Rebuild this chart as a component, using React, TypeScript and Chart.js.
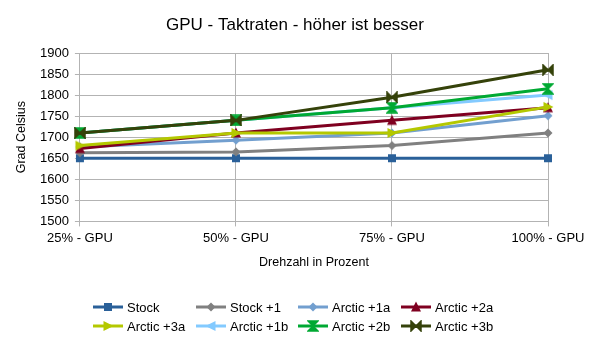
import React, { useEffect, useRef } from "react";
import { Chart, registerables } from "chart.js";

Chart.register(...registerables);

const chartTitle = "GPU - Taktraten - höher ist besser";
const categories = ["25% - GPU", "50% - GPU", "75% - GPU", "100% - GPU"];
const seriesNames = ["Stock", "Stock +1", "Arctic +1a", "Arctic +2a", "Arctic +3a", "Arctic +1b", "Arctic +2b", "Arctic +3b"];
const stock = [1650, 1650, 1650, 1650];
const stockPlus1 = [1663, 1665, 1680, 1710];
const arctic1a = [1677, 1693, 1710, 1751];
const arctic2a = [1673, 1710, 1740, 1770];
const arctic3a = [1680, 1710, 1710, 1772];
const arctic1b = [1710, 1740, 1770, 1800];
const arctic2b = [1710, 1740, 1770, 1815];
const arctic3b = [1710, 1740, 1795, 1860];
const yTicks = [1500, 1550, 1600, 1650, 1700, 1750, 1800, 1850, 1900];

const seriesValues = [stock, stockPlus1, arctic1a, arctic2a, arctic3a, arctic1b, arctic2b, arctic3b];
const colors = ["#2a6099", "#808080", "#729fcf", "#7f0020", "#b4c800", "#83caff", "#00a933", "#35420a"];
const markers = ["square", "diamond", "diamond", "triUp", "triRight", "triLeft", "hourglass", "bowtie"];

function makeMarker(kind: string, color: string): HTMLCanvasElement {
  const s = 12;
  const c = document.createElement("canvas");
  c.width = s;
  c.height = s;
  const g = c.getContext("2d")!;
  g.fillStyle = color;
  g.strokeStyle = color;
  const m = s / 2;
  g.beginPath();
  if (kind === "square") {
    g.rect(m - 4, m - 4, 8, 8);
  } else if (kind === "diamond") {
    g.moveTo(m, m - 4.5); g.lineTo(m + 4.5, m); g.lineTo(m, m + 4.5); g.lineTo(m - 4.5, m);
  } else if (kind === "triUp") {
    g.moveTo(m, m - 5.5); g.lineTo(m + 5, m + 4.5); g.lineTo(m - 5, m + 4.5);
  } else if (kind === "triRight") {
    g.moveTo(m + 5.5, m); g.lineTo(m - 4.5, m + 5); g.lineTo(m - 4.5, m - 5);
  } else if (kind === "triLeft") {
    g.moveTo(m - 5.5, m); g.lineTo(m + 4.5, m + 5); g.lineTo(m + 4.5, m - 5);
  } else if (kind === "hourglass") {
    g.moveTo(m - 5, m - 5); g.lineTo(m + 5, m - 5); g.lineTo(m, m); g.lineTo(m + 5, m + 5); g.lineTo(m - 5, m + 5); g.lineTo(m, m);
  } else if (kind === "bowtie") {
    g.moveTo(m - 5, m - 5); g.lineTo(m - 5, m + 5); g.lineTo(m, m); g.lineTo(m + 5, m + 5); g.lineTo(m + 5, m - 5); g.lineTo(m, m);
  }
  g.closePath();
  g.fill();
  if (kind === "hourglass" || kind === "bowtie") {
    g.lineWidth = 1.5;
    g.stroke();
  }
  return c;
}

const FONT = "'Liberation Sans', Arial, sans-serif";

export default function App() {
  const ref = useRef<HTMLCanvasElement | null>(null);
  useEffect(() => {
    document.body.style.margin = "0";
    const imgs = markers.map((k, i) => makeMarker(k, colors[i]));
    const decorPlugin = {
      id: "decor",
      afterDraw(chart: any) {
        const ctx = chart.ctx as CanvasRenderingContext2D;
        ctx.save();
        ctx.font = `17px ${FONT}`;
        ctx.fillStyle = "#000000";
        ctx.textAlign = "center";
        ctx.textBaseline = "middle";
        ctx.fillText(chartTitle, 295, 25);
        const colX = [93, 196, 298, 401];
        const rowY = [307, 326];
        ctx.font = `13px ${FONT}`;
        ctx.textAlign = "left";
        seriesNames.forEach((name, i) => {
          const x = colX[i % 4];
          const y = rowY[Math.floor(i / 4)];
          ctx.strokeStyle = colors[i];
          ctx.lineWidth = 3;
          ctx.beginPath();
          ctx.moveTo(x, y);
          ctx.lineTo(x + 30, y);
          ctx.stroke();
          const im = imgs[i];
          ctx.drawImage(im, x + 15 - im.width / 2, y - im.height / 2);
          ctx.fillStyle = "#000000";
          ctx.fillText(name, x + 34, y + 1);
        });
        ctx.restore();
      },
    };
    const chart = new Chart(ref.current!, {
      type: "line",
      data: {
        labels: categories,
        datasets: seriesNames.map((name, i) => ({
          label: name,
          data: seriesValues[i],
          borderColor: colors[i],
          backgroundColor: colors[i],
          borderWidth: 3,
          pointStyle: imgs[i] as any,
          pointRadius: 6,
          tension: 0,
          order: seriesNames.length - i,
        })),
      },
      options: {
        animation: false,
        responsive: false,
        layout: { padding: { left: 14, right: 49, top: 53, bottom: 76 } },
        plugins: {
          legend: { display: false },
          tooltip: { enabled: false },
          title: { display: false },
        },
        scales: {
          x: {
            offset: false,
            grid: { color: "#b3b3b3", tickLength: 5, drawTicks: true },
            border: { color: "#b3b3b3" },
            ticks: { color: "#000000", font: { family: FONT, size: 13 }, maxRotation: 0, padding: 4 },
            title: {
              display: true,
              text: "Drehzahl in Prozent",
              color: "#000000",
              font: { family: FONT, size: 12.5 },
              padding: { top: 5, bottom: 0 },
            },
          },
          y: {
            min: 1500,
            max: 1900,
            afterBuildTicks: (axis: any) => {
              axis.ticks = yTicks.map((v) => ({ value: v }));
            },
            grid: { color: "#b3b3b3", tickLength: 5 },
            border: { color: "#b3b3b3" },
            ticks: {
              color: "#000000",
              font: { family: FONT, size: 13 },
              padding: 6,
              callback: (v: any) => String(v),
            },
            title: {
              display: true,
              text: "Grad Celsius",
              color: "#000000",
              font: { family: FONT, size: 12.5 },
              padding: { top: 0, bottom: 5 },
            },
          },
        },
      },
      plugins: [decorPlugin],
    });
    return () => chart.destroy();
  }, []);
  return (
    <div style={{ width: 597, height: 346, background: "#ffffff" }}>
      <canvas ref={ref} width={597} height={346} style={{ display: "block" }} />
    </div>
  );
}
